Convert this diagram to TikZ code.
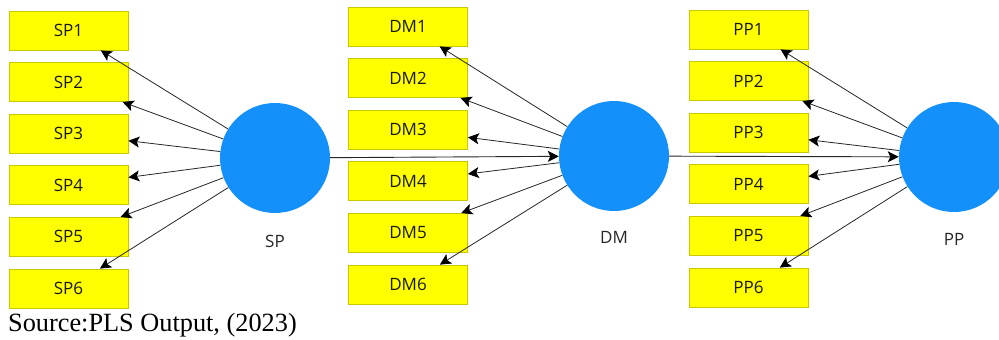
\documentclass[tikz,border=0pt]{standalone}
\usepackage{fontspec}
\setmainfont{Liberation Serif}
\newfontfamily\labelfont{Open Sans}
\usetikzlibrary{arrows.meta}
\definecolor{indfill}{HTML}{FFFF00}
\definecolor{indborder}{HTML}{C8C800}
\definecolor{latfill}{HTML}{1490FA}
\definecolor{linkcol}{HTML}{262626}
\tikzset{
  indicator/.style={draw=indborder, fill=indfill, line width=0.8pt,
    minimum width=119pt, minimum height=39pt, inner sep=0pt,
    font=\labelfont\fontsize{17}{20}\selectfont, text=black!90},
  latent/.style={circle, fill=latfill, draw=none, minimum size=110pt, inner sep=0pt},
  latlabel/.style={font=\labelfont\fontsize{17}{20}\selectfont, text=black!85},
  tipshape/.style={-{Stealth[length=11pt,width=11pt,inset=2.5pt,color=black]}},
  loading/.style={draw=linkcol, line width=0.8pt, tipshape},
  path/.style={draw=linkcol, line width=0.9pt, tipshape}
}
\begin{document}
\begin{tikzpicture}[x=1pt, y=-1pt]
  \useasboundingbox (0,0) rectangle (999,340);
  \clip (0,0) rectangle (999,340);

  % latent constructs
  \node[latent] (SP) at (275,158) {};
  \node[latent] (DM) at (614,156) {};
  \node[latent] (PP) at (954,157) {};
  \node[latlabel] (SPl) at (275,241) {SP};
  \node[latlabel] (DMl) at (614,237) {DM};
  \node[latlabel] (PPl) at (954,239) {PP};

  % indicator blocks
  \foreach \i in {1,...,6} {
    \node[indicator] (SP\i) at (68.5, {30.5+51.6*(\i-1)}) {SP\i};
    \node[indicator] (DM\i) at (408, {26.5+51.6*(\i-1)}) {DM\i};
    \node[indicator] (PP\i) at (748.5, {29.5+51.6*(\i-1)}) {PP\i};
  }

  % outer loadings
  \foreach \i in {1,...,6} {
    \draw[loading] (SP) -- (SP\i);
    \draw[loading] (DM) -- (DM\i);
    \draw[loading] (PP) -- (PP\i);
  }

  % structural paths
  \draw[path] (SP) -- (DM);
  \draw[path] (DM) -- (PP);

  % source note
  \node[anchor=base west, inner sep=0pt, font=\fontsize{26.3}{29}\selectfont] (src) at (8,331) {Source:PLS Output, (2023)};
\end{tikzpicture}
\end{document}
